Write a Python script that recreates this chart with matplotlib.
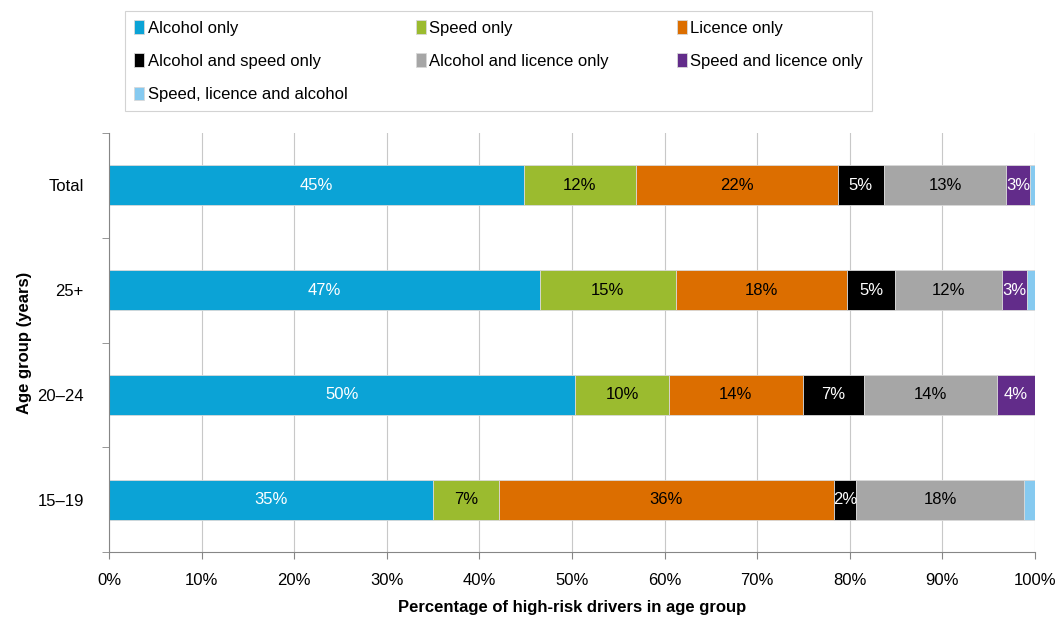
import matplotlib.pyplot as plt
import numpy as np

plt.rcParams['font.family'] = ['Liberation Sans', 'DejaVu Sans']

groups = ['15–19', '20–24', '25+', 'Total']
series = ['Alcohol only', 'Speed only', 'Licence only', 'Alcohol and speed only',
          'Alcohol and licence only', 'Speed and licence only', 'Speed, licence and alcohol']

# shares per age group (15–19, 20–24, 25+, Total)
alcohol = [35.0, 50.3, 46.5, 44.8]
speed = [7.1, 10.2, 14.7, 12.1]
licence = [36.2, 14.4, 18.5, 21.8]
alc_speed = [2.4, 6.6, 5.2, 5.0]
alc_licence = [18.1, 14.4, 11.5, 13.2]
speed_licence = [0.0, 4.1, 2.7, 2.6]
all_three = [1.2, 0.0, 0.9, 0.5]

# labels printed on the segments
labels = [
    ['35%', '50%', '47%', '45%'],
    ['7%', '10%', '15%', '12%'],
    ['36%', '14%', '18%', '22%'],
    ['2%', '7%', '5%', '5%'],
    ['18%', '14%', '12%', '13%'],
    ['', '4%', '3%', '3%'],
    ['', '', '', ''],
]

data = [alcohol, speed, licence, alc_speed, alc_licence, speed_licence, all_three]
colors = ['#0ba3d6', '#9bbb2f', '#dc6e00', '#000000', '#a6a6a6', '#622c8a', '#86caf0']
text_colors = ['white', 'black', 'black', 'white', 'black', 'white', 'black']

fig = plt.figure(figsize=(10.62, 6.19), dpi=100)
ax = fig.add_axes([109 / 1062, 1 - 552 / 619, 926 / 1062, 419 / 619])

y = np.arange(len(groups))
left = np.zeros(len(groups))
handles = []
for vals, col, tcol, labs, name in zip(data, colors, text_colors, labels, series):
    vals = np.array(vals)
    bars = ax.barh(y, vals, left=left, height=0.38, color=col,
                   edgecolor='#d9d9d9', linewidth=0.6, label=name)
    handles.append(bars)
    for yi, (l, v, lab) in enumerate(zip(left, vals, labs)):
        if lab:
            ax.text(l + v / 2, yi, lab, ha='center', va='center',
                    color=tcol, fontsize=12)
    left += vals

ax.set_xlim(0, 100)
ax.set_ylim(-0.5, 3.5)
ax.set_xticks(np.arange(0, 101, 10))
ax.set_xticklabels([f'{v}%' for v in range(0, 101, 10)], fontsize=12)
ax.set_yticks(y)
ax.set_yticklabels(groups, fontsize=12)
ax.tick_params(axis='y', length=0, pad=18)
ax.tick_params(axis='x', length=5, color='#868686', pad=10)
ax.set_yticks(np.arange(-0.5, 3.6, 1), minor=True)
ax.tick_params(axis='y', which='minor', length=5, color='#868686')

ax.grid(axis='x', color='#c8c8c8', linewidth=0.8)
ax.set_axisbelow(True)
for s in ['top', 'right']:
    ax.spines[s].set_visible(False)
for s in ['left', 'bottom']:
    ax.spines[s].set_color('#868686')

ax.set_xlabel('Percentage of high-risk drivers in age group', fontsize=12,
              fontweight='bold', labelpad=9)
ax.set_ylabel('Age group (years)', fontsize=12, fontweight='bold', labelpad=4)

# legend fills column by column, so reorder to read across rows
order = [0, 3, 6, 1, 4, 2, 5]
leg = fig.legend([handles[i] for i in order], [series[i] for i in order],
                 loc='upper left', ncol=3, borderaxespad=0,
                 bbox_to_anchor=(125 / 1062, 1 - 11 / 619), fontsize=12,
                 frameon=True, fancybox=False, edgecolor='#c8c8c8',
                 handlelength=0.6, handleheight=0.9, handletextpad=0.2,
                 columnspacing=4.1, labelspacing=1.05, borderpad=0.55)
leg.get_frame().set_linewidth(0.8)

fig.savefig('out.png', dpi=100)
